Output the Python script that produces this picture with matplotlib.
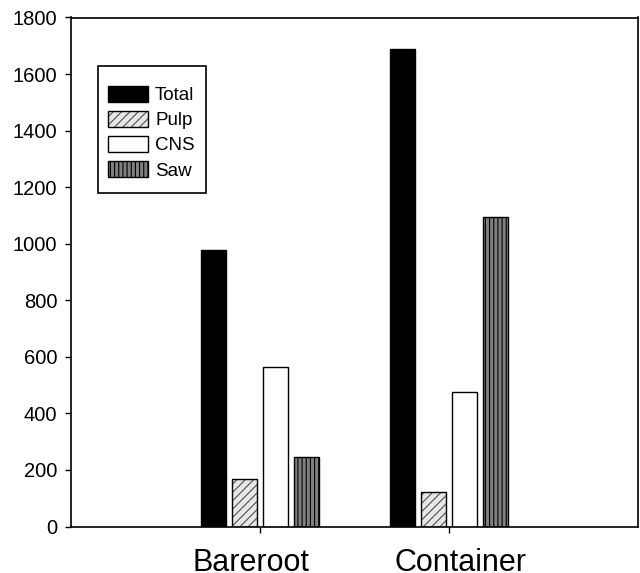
import numpy as np
import matplotlib
matplotlib.use("Agg")
import matplotlib.pyplot as plt
from matplotlib.patches import Rectangle
from matplotlib.transforms import ScaledTranslation

plt.rcParams["font.family"] = ["Liberation Sans", "DejaVu Sans"]
plt.rcParams["hatch.linewidth"] = 0.8

# Data
categories = ["Bareroot", "Container"]
series_names = ["Total", "Pulp", "CNS", "Saw"]
total = [978, 1688]
pulp = [169, 122]
cns = [564, 477]
saw = [246, 1095]

face_colors = ["black", "#e6e6e6", "white", "#808080"]
hatch_colors = ["black", "#505050", "black", "black"]
hatches = [None, "////", None, "||||"]

x = np.arange(len(categories))
width = 0.133
step = 0.163

fig = plt.figure(figsize=(6.4, 5.73), dpi=100)
ax = fig.add_axes([71 / 640, 1 - 526.5 / 573, 567 / 640, 509 / 573])

handles = []
for i, vals in enumerate([total, pulp, cns, saw]):
    offset = (i - 1.5) * step
    # fill + hatch first, then the black outline on top
    fill = ax.bar(x + offset, vals, width=width, color=face_colors[i],
                  edgecolor=hatch_colors[i], linewidth=0, hatch=hatches[i])
    edge = ax.bar(x + offset, vals, width=width, fill=False,
                  edgecolor="black", linewidth=1)
    handles.append((fill, edge))

ax.set_ylim(0, 1800)
ax.set_yticks(np.arange(0, 1801, 200))
ax.set_xlim(-1, 2)
ax.set_xticks(x)
ax.set_xticklabels(categories, fontsize=22)
ax.tick_params(axis="y", labelsize=14.5, direction="out", length=4.3, width=1, pad=5.5)
ax.tick_params(axis="x", direction="out", length=4.3, width=1, pad=11)
for s in ax.spines.values():
    s.set_linewidth(1.2)

# the category labels sit a little further apart than the ticks in the original
for lbl, dx in zip(ax.get_xticklabels(), [-9, 11]):
    lbl.set_transform(lbl.get_transform() + ScaledTranslation(dx / 100, 0, fig.dpi_scale_trans))

leg = ax.legend(handles, series_names, loc="upper left",
                bbox_to_anchor=(0.0653, 0.866), fontsize=13.5, frameon=False,
                handlelength=2.13, handleheight=0.95, handletextpad=0.38,
                labelspacing=0.35, borderpad=0, borderaxespad=0)

# legend frame drawn separately (the reference has more room above/below than at the sides)
ax.add_patch(Rectangle((0.0476, 0.655), 0.1905, 0.2497, transform=ax.transAxes,
                       fill=False, edgecolor="black", linewidth=1.2, zorder=5))

fig.savefig("out.png", dpi=100)
